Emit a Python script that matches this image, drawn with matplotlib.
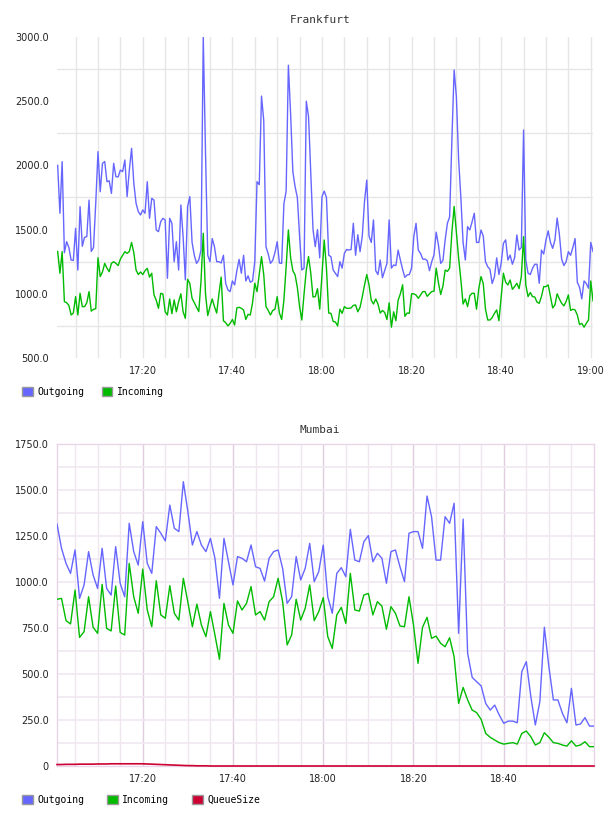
import matplotlib
matplotlib.use('Agg')
import matplotlib.pyplot as plt
import numpy as np
from matplotlib.patches import Patch

# Frankfurt: one sample every 30 s, first sample at 17:01
fra_start = 1.0
fra_step = 0.5
fra_out = [
    2000, 1627, 2029, 1320, 1406, 1360, 1263, 1260, 1510, 1185,
    1679, 1370, 1440, 1445, 1730, 1330, 1360, 1705, 2107, 1795,
    2016, 2030, 1873, 1880, 1782, 2016, 1912, 1910, 1964, 1951,
    2042, 1757, 1964, 2133, 1860, 1705, 1640, 1614, 1653, 1627,
    1873, 1588, 1743, 1730, 1497, 1484, 1562, 1588, 1575, 1121,
    1588, 1549, 1250, 1406, 1185, 1692, 1445, 1108, 1679, 1757,
    1400, 1300, 1237, 1263, 1341, 3000, 2100, 1300, 1250, 1430,
    1367, 1250, 1250, 1240, 1300, 1082, 1030, 1017, 1100, 1069,
    1180, 1268, 1160, 1300, 1100, 1140, 1090, 1100, 1250, 1873,
    1850, 2540, 2350, 1367, 1310, 1237, 1260, 1320, 1406, 1240,
    1237, 1700, 1800, 2780, 2400, 1950, 1834, 1750, 1450, 1185,
    1200, 2500, 2380, 1950, 1500, 1367, 1500, 1280, 1757, 1800,
    1750, 1300, 1289, 1185, 1160, 1134, 1250, 1200, 1315, 1345,
    1341, 1345, 1549, 1300, 1460, 1328, 1450, 1720, 1886, 1450,
    1400, 1575, 1180, 1150, 1263, 1125, 1180, 1237, 1575, 1200,
    1224, 1220, 1340, 1263, 1190, 1128, 1147, 1150, 1200, 1445,
    1549, 1340, 1315, 1270, 1270, 1258, 1180, 1250, 1302, 1480,
    1380, 1237, 1260, 1420, 1549, 1600, 2200, 2743, 2535, 2050,
    1750, 1400, 1263, 1523, 1497, 1560, 1627, 1400, 1400, 1497,
    1450, 1250, 1211, 1190, 1080, 1134, 1280, 1150, 1237, 1393,
    1420, 1263, 1302, 1230, 1280, 1458, 1341, 1360, 2276, 1263,
    1160, 1150, 1198, 1230, 1230, 1082, 1340, 1310, 1419, 1490,
    1400, 1354, 1420, 1590, 1460, 1270, 1220, 1250, 1328, 1300,
    1360, 1430, 1090, 1050, 960, 1100, 1080, 1043, 1400, 1330,
]
fra_in = [
    1330, 1160, 1328, 939, 931, 910, 835, 850, 978, 835,
    1004, 900, 900, 930, 1017, 865, 879, 884, 1281, 1134,
    1170, 1237, 1200, 1172, 1237, 1250, 1237, 1220, 1270, 1300,
    1328, 1315, 1330, 1400, 1320, 1185, 1150, 1170, 1150, 1180,
    1198, 1130, 1160, 991, 950, 887, 1004, 998, 860, 835,
    960, 845, 952, 860, 939, 1000, 860, 809, 1113, 1080,
    965, 930, 895, 861, 1100, 1471, 1000, 830, 900, 960,
    900, 850, 1000, 1130, 790, 775, 750, 770, 800, 757,
    890, 895, 887, 874, 800, 840, 835, 930, 1082, 1017,
    1150, 1289, 1150, 900, 870, 835, 870, 880, 978, 850,
    800, 950, 1211, 1497, 1280, 1180, 1147, 1050, 900, 796,
    1000, 1185, 1290, 1160, 975, 978, 1040, 880, 1150, 1419,
    1200, 850, 848, 785, 780, 750, 880, 848, 900, 887,
    887, 890, 910, 913, 860, 895, 978, 1069, 1150, 1070,
    950, 920, 960, 920, 850, 870, 855, 800, 930, 740,
    860, 790, 950, 1000, 1070, 825, 850, 848, 1000, 1000,
    990, 965, 990, 1017, 1017, 980, 1000, 1017, 1020, 1200,
    1085, 995, 1060, 1185, 1175, 1200, 1480, 1680, 1480, 1280,
    1110, 920, 960, 900, 985, 1004, 1004, 880, 1040, 1134,
    1080, 880, 796, 796, 815, 848, 874, 790, 978, 1160,
    1090, 1069, 1108, 1035, 1056, 1082, 1040, 1134, 1445, 1069,
    978, 1010, 978, 975, 935, 926, 980, 1056, 1056, 1069,
    980, 890, 913, 1000, 960, 926, 906, 940, 991, 870,
    880, 874, 835, 760, 770, 740, 770, 796, 1100, 945,
]

# Mumbai: one sample per minute, first sample at 17:01
mum_start = 1.0
mum_step = 1.0
mum_out = [
    1315, 1183, 1101, 1047, 1174, 911, 984, 1165, 1038, 965,
    1183, 965, 929, 1192, 993, 920, 1319, 1165, 1092, 1328,
    1101, 1047, 1301, 1265, 1223, 1418, 1292, 1274, 1545, 1382,
    1201, 1274, 1201, 1165, 1237, 1129, 911, 1237, 1110, 984,
    1138, 1129, 1110, 1201, 1083, 1074, 1005, 1129, 1165, 1174,
    1074, 884, 920, 1138, 1011, 1074, 1210, 1002, 1056, 1201,
    920, 830, 1047, 1078, 1029, 1286, 1119, 1110, 1219, 1252,
    1110, 1156, 1129, 993, 1165, 1174, 1083, 1002, 1265, 1274,
    1274, 1183, 1467, 1355, 1119, 1119, 1355, 1319, 1428, 721,
    1342, 612, 482, 458, 435, 340, 304, 331, 277, 232,
    244, 244, 235, 513, 567, 377, 223, 350, 754, 540,
    359, 359, 286, 235, 422, 223, 228, 263, 217, 217,
]
mum_in = [
    906, 911, 790, 772, 956, 699, 730, 920, 754, 721,
    987, 748, 734, 978, 726, 712, 1101, 920, 830, 1070,
    848, 757, 1007, 821, 803, 980, 830, 793, 1020, 890,
    757, 880, 766, 703, 839, 712, 580, 884, 766, 721,
    897, 848, 884, 975, 821, 839, 793, 893, 920, 1020,
    893, 658, 712, 906, 793, 857, 984, 790, 839, 915,
    703, 639, 821, 862, 775, 1047, 848, 842, 929, 938,
    821, 893, 869, 743, 866, 830, 761, 757, 920, 766,
    558, 754, 808, 694, 706, 667, 648, 697, 594, 340,
    427, 359, 304, 290, 253, 177, 156, 141, 127, 119,
    123, 127, 119, 177, 190, 159, 114, 127, 181, 156,
    127, 123, 114, 108, 137, 108, 114, 132, 105, 105,
]
mum_queue = [
    8, 8, 9, 9, 9, 10, 10, 10, 10, 11,
    11, 11, 12, 12, 12, 12, 12, 12, 12, 12,
    11, 10, 9, 8, 7, 6, 5, 4, 3, 2,
    2, 1, 1, 1, 0, 0, 0, 0, 0, 0,
    0, 0, 0, 0, 0, 0, 0, 0, 0, 0,
    0, 0, 0, 0, 0, 0, 0, 0, 0, 0,
    0, 0, 0, 0, 0, 0, 0, 0, 0, 0,
    0, 0, 0, 0, 0, 0, 0, 0, 0, 0,
    0, 0, 0, 0, 0, 0, 0, 0, 0, 0,
    0, 0, 0, 0, 0, 0, 0, 0, 0, 0,
    0, 0, 0, 0, 0, 0, 0, 0, 0, 0,
    0, 0, 0, 0, 0, 0, 0, 0, 0, 0,
]

time_ticks = [20, 40, 60, 80, 100, 120]
fra_yticks = [500, 1000, 1500, 2000, 2500, 3000]
mum_yticks = [0, 250, 500, 750, 1000, 1250, 1500, 1750]

c_out = '#6666ff'
c_in = '#00bb00'
c_queue = '#cc0033'
mono = 'DejaVu Sans Mono'


def hhmm(m):
    m = int(round(m))
    return '%d:%02d' % (17 + m // 60, m % 60)


def style_axes(ax):
    for s in ax.spines.values():
        s.set_visible(False)
    ax.tick_params(length=0, labelsize=7, colors='#222222', pad=6)


fig = plt.figure(figsize=(6.08, 8.16), dpi=100)

# ---------------- Frankfurt ----------------
ax1 = fig.add_axes([57 / 608, 1 - 358 / 816, 536 / 608, 321 / 816])
t1 = fra_start + fra_step * np.arange(len(fra_out))
ax1.plot(t1, fra_out, color=c_out, lw=1.0, zorder=3)
ax1.plot(t1, fra_in, color=c_in, lw=1.0, zorder=3)
ax1.set_xlim(0.85, 120.5)
ax1.set_ylim(500, 3000)
for m in range(5, 121, 5):
    ax1.axvline(m, color='#e6e6e6', lw=1, zorder=1)
for v in range(750, 3000, 500):
    ax1.axhline(v, color='#e6e6e6', lw=1, zorder=1)
ax1.set_xticks(time_ticks)
ax1.set_xticklabels([hhmm(m) for m in time_ticks])
ax1.set_yticks(fra_yticks)
ax1.set_yticklabels(['%.1f' % v for v in fra_yticks])
style_axes(ax1)
fig.text(320 / 608, 1 - 20 / 816, 'Frankfurt', ha='center', va='center',
         fontsize=8, family=mono, color='#333333')

# ---------------- Mumbai ----------------
ax2 = fig.add_axes([57 / 608, 1 - 766 / 816, 537 / 608, 322 / 816])
t2 = mum_start + mum_step * np.arange(len(mum_out))
ax2.plot(t2, mum_out, color=c_out, lw=1.0, zorder=3)
ax2.plot(t2, mum_in, color=c_in, lw=1.0, zorder=3)
ax2.plot(t2, mum_queue, color=c_queue, lw=1.2, zorder=4, clip_on=False)
ax2.set_xlim(1.0, 120.0)
ax2.set_ylim(0, 1750)
for m in range(5, 120, 5):
    col = '#e0cee0' if m % 20 == 0 else '#efe6ef'
    ax2.axvline(m, color=col, lw=1, zorder=1)
for v in range(125, 1750, 125):
    ax2.axhline(v, color='#f1e8f1', lw=1.2, zorder=1)
ax2.set_xticks(time_ticks[:-1])
ax2.set_xticklabels([hhmm(m) for m in time_ticks[:-1]])
ax2.set_yticks(mum_yticks)
ax2.set_yticklabels(['0' if v == 0 else '%.1f' % v for v in mum_yticks])
style_axes(ax2)
for s in ax2.spines.values():
    s.set_visible(True)
    s.set_color('#e8d6e8')
    s.set_linewidth(1)
fig.text(320 / 608, 1 - 430 / 816, 'Mumbai', ha='center', va='center',
         fontsize=8, family=mono, color='#333333')

# ---------------- legends ----------------
def legend(labels, colors, y, spacing):
    handles = [Patch(facecolor=c, edgecolor='#999999', linewidth=1) for c in colors]
    fig.legend(handles, labels, loc='center left',
               bbox_to_anchor=(22 / 608, 1 - y / 816), ncol=len(labels),
               frameon=False, prop={'family': mono, 'size': 7},
               handlelength=1.1, handleheight=1.1, handletextpad=0.5,
               columnspacing=spacing, borderpad=0, borderaxespad=0)

legend(['Outgoing', 'Incoming'], [c_out, c_in], 392, 1.75)
legend(['Outgoing', 'Incoming', 'QueueSize'], [c_out, c_in, c_queue], 800, 2.3)

fig.savefig('out.png', dpi=100)
plt.close(fig)
